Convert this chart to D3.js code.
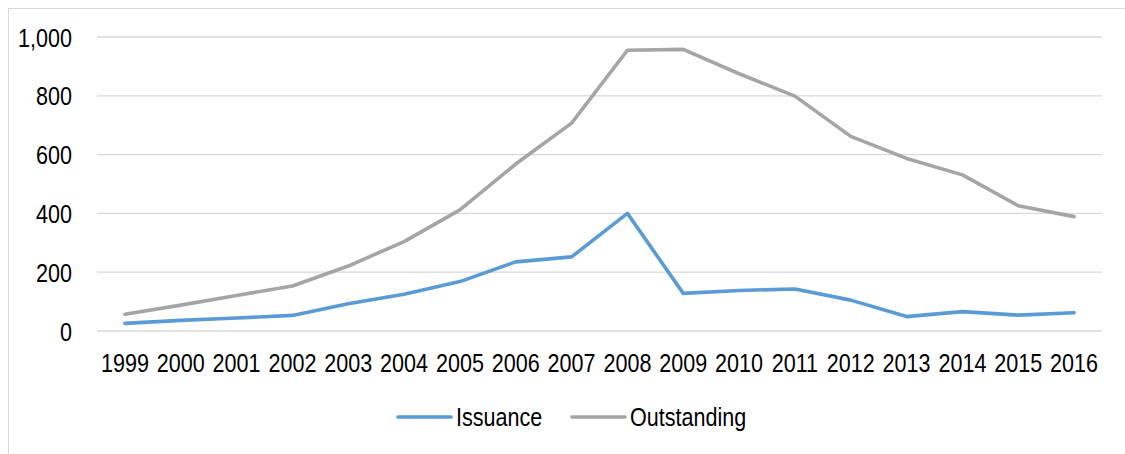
<!DOCTYPE html>
<html>
<head>
<meta charset="utf-8">
<script src="https://cdn.jsdelivr.net/npm/d3@7"></script>
<style>
  html, body { margin: 0; padding: 0; background: #fff; }
  svg { display: block; }
  text { font-family: "Liberation Sans", Arial, sans-serif; fill: #000; }
</style>
</head>
<body>
<svg id="chart" width="1125" height="454"></svg>
<script>
// Years on the category axis
const years = ["1999","2000","2001","2002","2003","2004","2005","2006","2007","2008",
               "2009","2010","2011","2012","2013","2014","2015","2016"];

// Annual issuance
const issuance = [26, 36, 44, 53, 93, 125, 168, 235, 252, 400,
                  128, 138, 143, 105, 49, 66, 54, 62];

// Amount outstanding at year end
const outstanding = [57, 88, 121, 153, 221, 304, 412, 568, 707, 955,
                     958, 875, 799, 662, 587, 531, 426, 389];

// Value-axis ticks
const yTicks = [0, 200, 400, 600, 800, 1000];

const seriesNames = ["Issuance", "Outstanding"];
const seriesColors = ["#5B9BD5", "#A5A5A5"];

// Narrow-face look: regular sans squeezed horizontally
const narrow = "scale(0.845,1)";
const fontSize = 25.5;

const svg = d3.select("#chart");

// Outer chart frame (runs off the right and bottom edges)
svg.append("rect")
  .attr("x", 8.5).attr("y", 8.5)
  .attr("width", 1130).attr("height", 460)
  .attr("fill", "none")
  .attr("stroke", "#D9D9D9")
  .attr("stroke-width", 1);

const plot = { left: 97, right: 1102, top: 37, bottom: 331 };

const x = d3.scaleBand()
  .domain(years)
  .range([plot.left, plot.right]);

const y = d3.scaleLinear()
  .domain([0, 1000])
  .range([plot.bottom, plot.top]);

// Horizontal gridlines
svg.append("g")
  .selectAll("line")
  .data(yTicks)
  .join("line")
  .attr("x1", plot.left).attr("x2", plot.right)
  .attr("y1", d => y(d)).attr("y2", d => y(d))
  .attr("stroke", "#D9D9D9")
  .attr("stroke-width", 1.3);

// Value axis labels
const yAxis = d3.axisLeft(y)
  .tickValues(yTicks)
  .tickFormat(d3.format(","))
  .tickSize(0)
  .tickPadding(0);

svg.append("g")
  .attr("transform", `translate(${72},0)`)
  .call(yAxis)
  .call(g => g.select(".domain").remove())
  .selectAll("text")
  .attr("font-size", fontSize)
  .attr("font-family", null)
  .attr("x", 0)
  .attr("dy", "0.36em")
  .attr("transform", narrow);

// Category axis labels
const xAxis = d3.axisBottom(x)
  .tickSize(0)
  .tickPadding(0);

svg.append("g")
  .attr("transform", `translate(0,${plot.bottom})`)
  .call(xAxis)
  .call(g => g.select(".domain").remove())
  .selectAll("text")
  .attr("font-size", fontSize)
  .attr("font-family", null)
  .attr("dy", null)
  .attr("y", 41)
  .attr("transform", narrow);

// Series lines
const line = d3.line()
  .x((d, i) => x(years[i]) + x.bandwidth() / 2)
  .y(d => y(d));

[outstanding, issuance].forEach((vals, k) => {
  const color = k === 0 ? seriesColors[1] : seriesColors[0];
  svg.append("path")
    .datum(vals)
    .attr("fill", "none")
    .attr("stroke", color)
    .attr("stroke-width", 3.6)
    .attr("stroke-linejoin", "round")
    .attr("stroke-linecap", "round")
    .attr("d", line);
});

// Legend
const legendItems = [
  { name: seriesNames[0], color: seriesColors[0], x: 398 },
  { name: seriesNames[1], color: seriesColors[1], x: 572 }
];
const legend = svg.append("g");
legendItems.forEach(item => {
  legend.append("line")
    .attr("x1", item.x).attr("x2", item.x + 53)
    .attr("y1", 417).attr("y2", 417)
    .attr("stroke", item.color)
    .attr("stroke-width", 3.6)
    .attr("stroke-linecap", "round");
  legend.append("g")
    .attr("transform", `translate(${item.x + 58},426)`)
    .append("text")
    .attr("font-size", fontSize)
    .attr("transform", narrow)
    .text(item.name);
});
</script>
</body>
</html>
